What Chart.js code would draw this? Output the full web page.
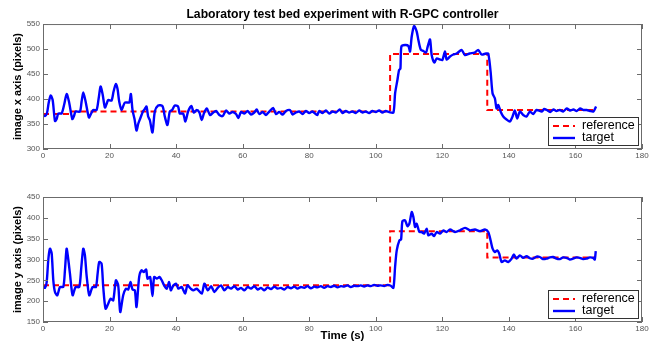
<!DOCTYPE html>
<html>
<head>
<meta charset="utf-8">
<script src="https://cdn.jsdelivr.net/npm/chart.js@4.4.1/dist/chart.umd.min.js"></script>
<style>
  html, body { margin: 0; padding: 0; background: #fff; }
  #wrap { position: relative; width: 651px; height: 343px; }
  #wrap canvas { position: absolute; left: 0; }
</style>
</head>
<body>
<div id="wrap">
  <canvas id="chartX" width="651" height="172" style="top:0"></canvas>
  <canvas id="chartY" width="651" height="171" style="top:172px"></canvas>
</div>
<script>
// tick labels
const timeTicks = [0, 20, 40, 60, 80, 100, 120, 140, 160, 180];
const xPixelTicks = [300, 350, 400, 450, 500, 550];
const yPixelTicks = [150, 200, 250, 300, 350, 400, 450];

// reference (setpoint) steps
const refTimeX = [0, 8.5, 104.3, 133.5, 166];
const refX = [370, 375, 490, 378, 378];
const refTimeY = [0, 104.3, 133.5, 166];
const refY = [238, 368, 305, 305];

// measured target, image x axis
const timeTop = [
  0, 0.6, 1.2, 1.7, 2.3, 2.9, 3.6, 4.1, 4.6, 5.6, 6.4, 7.1, 7.8, 8.8, 9.3, 9.8,
  11.1, 11.6, 12.1, 12.8, 13.8, 14.4, 15.1, 16.1, 16.7, 17.3, 17.9, 18.6, 19.1, 19.6,
  20.6, 21.2, 21.9, 22.4, 22.9, 23.6, 24.6, 25.9, 26.4, 26.9, 27.5, 28.1, 28.6, 29.1,
  30.1, 30.6, 31.1, 31.6, 32.1, 32.9, 33.6, 34.6, 35.9, 36.6, 37.4, 38.1, 38.8, 39.6,
  40.6, 41.1, 42.1, 42.8, 43.6, 44.6, 45.3, 46.2, 47.0, 47.7, 48.4, 49.2, 50.2,
  51, 52, 53, 54, 55, 56, 57, 58, 58.7, 59.5, 60.5, 61.5, 62.5, 63.5, 64.2, 65, 66, 67, 68, 69.2, 70,
  71, 72, 73, 74.2, 75, 76, 77, 78, 79, 80, 81, 82.4, 83, 84, 85, 86, 87, 88, 89.2, 90,
  91, 92, 93, 94, 95, 96, 97, 98, 99, 100, 101, 102, 103, 104, 105.3,
  105.8, 106.5, 107.0, 107.4, 107.7, 108.8, 109.8, 110.3, 110.8, 111.5, 112.3, 112.8, 113.5, 114.3, 115.1,
  115.6, 116.3, 116.8, 117.6, 118.3, 119.3, 120.0, 120.8, 121.3, 122.3, 123.3, 124.3, 125.8, 126.8, 128.2,
  129.7, 130.8, 131.8, 133.1, 133.8,
  134.5, 135.1, 135.8, 136.3, 136.8, 137.5, 138.3, 139.3, 140.3, 141.1, 141.8, 142.5, 143.3, 144.3, 145.3,
  146.3, 147.3, 148.3, 149.9,
  150.6, 151.4, 152.4, 153.4, 154.3, 155.3, 156.3, 157.4, 158.4, 159.4, 160.4, 161.4, 162.4, 163.4, 164.4, 165.4, 166.2
];
const targetX = [
  368, 366, 372, 392, 407, 398, 356, 360, 371, 371, 390, 410, 395, 360, 366, 375,
  375, 395, 413, 395, 363, 370, 378, 378, 400, 425, 410, 383, 390, 398,
  397, 415, 430, 420, 395, 378, 393, 393, 410, 378, 360, 337, 350, 359,
  376, 380, 385, 365, 358, 333, 375, 387, 386, 365, 348, 375, 378, 387,
  385, 371, 371, 355, 375, 386, 373, 378, 373, 358, 372, 381, 368,
  372, 376, 368, 366, 377, 371, 374, 370, 362, 374, 371, 376, 369, 373, 379, 370, 374, 368, 375, 382, 370,
  374, 369, 376, 378, 369, 373, 375, 370, 376, 372, 375, 368, 376, 372, 377, 371, 375, 373, 379, 372,
  376, 373, 375, 372, 377, 373, 375, 372, 376, 374, 377, 373, 376, 374, 373,
  411, 438, 458, 461, 505, 508, 506, 495, 525, 546, 535, 518, 499, 496, 493,
  505, 519, 488, 473, 481, 479, 478, 495, 479, 485, 489, 491, 498, 488, 491,
  493, 498, 489, 491, 491,
  455, 411, 401, 381, 388, 375, 365, 359, 355, 365, 377, 361, 375, 368, 365,
  375, 370, 378, 375,
  380, 378, 374, 379, 376, 378, 375, 381, 377, 379, 376, 381, 378, 378, 376, 375, 385
];

// measured target, image y axis
const timeBottom = [
  0, 0.6, 1.1, 1.6, 2.1, 2.6, 3.1, 3.6, 4.3, 5.1, 6.1, 6.6, 7.1, 7.6, 8.1, 8.9, 9.8,
  10.9, 11.5, 12.1, 12.6, 13.1, 13.9, 14.9, 15.9, 16.4, 16.9, 17.6, 18.1, 18.8, 19.6,
  20.3, 21.1, 21.9, 22.6, 23.2, 24.1, 24.9, 25.6, 26.3, 26.9, 27.6, 28.1, 28.9, 29.6,
  30.3, 31.0, 31.4, 32.2, 32.9, 33.4, 34.2, 35.0, 35.7, 36.4, 37.2, 37.9, 38.4, 39.2,
  40.0, 40.7, 41.7, 42.7, 43.4, 44.4, 45.2, 46.2, 47.7, 48.5, 49.5,
  50.5, 51.5, 52.5, 53.5, 54.5, 55.5, 56.5, 57.5, 58.5, 59.5,
  60.5, 61.5, 62.5, 63.5, 64.5, 65.5, 66.5, 67.5, 68.5, 69.5,
  70.5, 71.5, 72.5, 73.5, 74.5, 75.5, 76.5, 77.5, 78.5, 79.5,
  80.5, 81.5, 82.5, 83.5, 84.5, 85.5, 86.5, 87.5, 88.5, 89.5,
  90.5, 91.5, 92.5, 93.5, 94.5, 95.5, 96.5, 97.5, 98.5, 99.5,
  100.5, 101.5, 102.5, 103.5, 104.5, 105.3,
  105.8, 106.3, 107.1, 107.6, 108.0, 108.8, 109.5, 110.1, 110.8, 111.3, 111.8, 112.3, 113.1, 113.8, 114.5, 115.3,
  115.8, 116.8, 117.5, 118.3, 119.3, 120.3, 121.3, 122.3, 123.8, 125.3, 126.8, 128.3, 129.8, 131.3, 132.8, 133.8,
  134.5, 135.1, 135.8, 136.5, 137.1, 137.8, 138.8, 139.8, 140.8, 141.5, 142.3, 143.3, 144.3, 145.3, 146.3, 147.3,
  148.3, 149.3, 150.3, 151.3, 152.3, 153.3, 154.3, 155.3, 156.3, 157.3, 158.3, 159.3, 160.3, 161.3, 162.3, 163.3,
  164.3, 165.3, 165.8, 166.1
];
const targetY = [
  236, 232, 245, 300, 326, 315, 250, 222, 214, 234, 234, 275, 326, 300, 266, 214, 234,
  234, 280, 326, 310, 262, 214, 234, 234, 265, 294, 290, 234, 182, 194,
  206, 202, 250, 238, 174, 214, 230, 228, 246, 228, 226, 186, 258, 274,
  270, 276, 254, 258, 212, 258, 254, 258, 250, 238, 230, 246, 226, 238,
  242, 230, 234, 218, 238, 230, 226, 230, 218, 242, 226,
  236, 222, 232, 238, 226, 234, 230, 236, 228, 232,
  226, 234, 230, 236, 228, 232, 226, 233, 229, 235,
  230, 232, 228, 234, 231, 235, 230, 234, 232, 236,
  231, 235, 233, 236, 232, 236, 234, 237, 233, 236,
  235, 238, 234, 237, 236, 238, 235, 238, 236, 239,
  237, 238, 236, 239, 237, 232,
  282, 322, 346, 348, 392, 394, 380, 386, 414, 402, 378, 386, 366, 366, 362, 374,
  358, 362, 356, 366, 362, 370, 366, 372, 366, 370, 376, 370, 372, 368, 372, 366,
  346, 326, 318, 322, 314, 294, 298, 294, 302, 312, 302, 310, 304, 308, 303, 302,
  307, 306, 301, 302, 305, 306, 302, 301, 305, 304, 300, 302, 305, 304, 301, 302,
  305, 304, 300, 320
];

const FONT = "'Liberation Sans', Arial, Helvetica, sans-serif";

// Matlab-like box, inward ticks and legend
const boxPlugin = {
  id: 'matlabBox',
  afterDatasetsDraw(chart) {
    const { ctx, chartArea: a, scales } = chart;
    ctx.save();
    ctx.strokeStyle = '#6b6b6b';
    ctx.lineWidth = 1;
    ctx.strokeRect(a.left + 0.5, a.top + 0.5, a.right - a.left - 1, a.bottom - a.top - 1);
    ctx.beginPath();
    scales.x.ticks.forEach(t => {
      const px = Math.round(scales.x.getPixelForValue(t.value)) + 0.5;
      ctx.moveTo(px, a.bottom); ctx.lineTo(px, a.bottom - 5);
      ctx.moveTo(px, a.top); ctx.lineTo(px, a.top + 5);
    });
    scales.y.ticks.forEach(t => {
      const py = Math.round(scales.y.getPixelForValue(t.value)) + 0.5;
      ctx.moveTo(a.left, py); ctx.lineTo(a.left + 5, py);
      ctx.moveTo(a.right, py); ctx.lineTo(a.right - 5, py);
    });
    ctx.stroke();

    // legend box in the lower right corner
    const bw = 90, bh = 28;
    const bx = a.right - 4 - bw, by = a.bottom - 4 - bh;
    ctx.fillStyle = '#fff';
    ctx.fillRect(bx, by, bw, bh);
    ctx.strokeStyle = '#333';
    ctx.strokeRect(bx + 0.5, by + 0.5, bw, bh);
    ctx.font = '12.5px ' + FONT;
    ctx.textBaseline = 'middle';
    ctx.fillStyle = '#000';
    chart.data.datasets.forEach((ds, i) => {
      const ly = by + 9 + i * 12;
      ctx.beginPath();
      ctx.strokeStyle = ds.borderColor;
      ctx.lineWidth = ds.borderWidth;
      ctx.setLineDash(ds.borderDash || []);
      ctx.moveTo(bx + 5, ly); ctx.lineTo(bx + 27, ly);
      ctx.stroke();
      ctx.setLineDash([]);
      ctx.fillText(ds.label, bx + 34, ly);
    });
    ctx.restore();
  }
};

function makeChart(id, opts) {
  const ctx = document.getElementById(id).getContext('2d');
  return new Chart(ctx, {
    type: 'line',
    data: {
      datasets: [
        {
          label: 'reference',
          data: opts.refTime.map((t, i) => ({ x: t, y: opts.ref[i] })),
          borderColor: '#ff0000',
          borderWidth: 2,
          borderDash: [6, 4],
          stepped: 'before',
          pointRadius: 0,
          order: 1
        },
        {
          label: 'target',
          data: opts.time.map((t, i) => ({ x: t, y: opts.target[i] })),
          borderColor: '#0000ff',
          borderWidth: 2.4,
          tension: 0.25,
          pointRadius: 0,
          order: 0
        }
      ]
    },
    options: {
      responsive: false,
      animation: false,
      layout: { padding: { left: 0, right: 9, top: opts.padTop, bottom: 0 } },
      plugins: {
        legend: { display: false },
        tooltip: { enabled: false },
        title: {
          display: !!opts.title,
          text: opts.title,
          fullSize: false,
          color: '#000',
          font: { family: FONT, size: 12.2, weight: 'bold' },
          padding: { top: 7.5, bottom: 1.9 }
        }
      },
      scales: {
        x: {
          type: 'linear',
          min: 0, max: 180,
          afterBuildTicks: s => { s.ticks = timeTicks.map(v => ({ value: v })); },
          afterFit: s => { s.height = opts.xHeight; },
          grid: { display: false, drawTicks: false },
          border: { display: false },
          ticks: { color: '#555', padding: 2, maxRotation: 0, font: { family: FONT, size: 8 } },
          title: {
            display: !!opts.xTitle,
            text: opts.xTitle,
            color: '#000',
            font: { family: FONT, size: 11.5, weight: 'bold' },
            padding: { top: 0, bottom: 0 }
          }
        },
        y: {
          type: 'linear',
          min: opts.yTicks[0], max: opts.yTicks[opts.yTicks.length - 1],
          afterBuildTicks: s => { s.ticks = opts.yTicks.map(v => ({ value: v })); },
          afterFit: s => { s.width = 43; },
          grid: { display: false, drawTicks: false },
          border: { display: false },
          ticks: { color: '#555', padding: 3, font: { family: FONT, size: 8 } },
          title: {
            display: true,
            text: opts.yTitle,
            color: '#000',
            font: { family: FONT, size: 11, weight: 'bold' },
            padding: { top: 11, bottom: 0 }
          }
        }
      }
    },
    plugins: [boxPlugin]
  });
}

makeChart('chartX', {
  time: timeTop, target: targetX, refTime: refTimeX, ref: refX,
  yTicks: xPixelTicks, yTitle: 'image x axis (pixels)',
  title: 'Laboratory test bed experiment with R-GPC controller',
  padTop: 0, xHeight: 23
});

makeChart('chartY', {
  time: timeBottom, target: targetY, refTime: refTimeY, ref: refY,
  yTicks: yPixelTicks, yTitle: 'image y axis (pixels)',
  xTitle: 'Time (s)',
  padTop: 25, xHeight: 21
});
</script>
</body>
</html>
